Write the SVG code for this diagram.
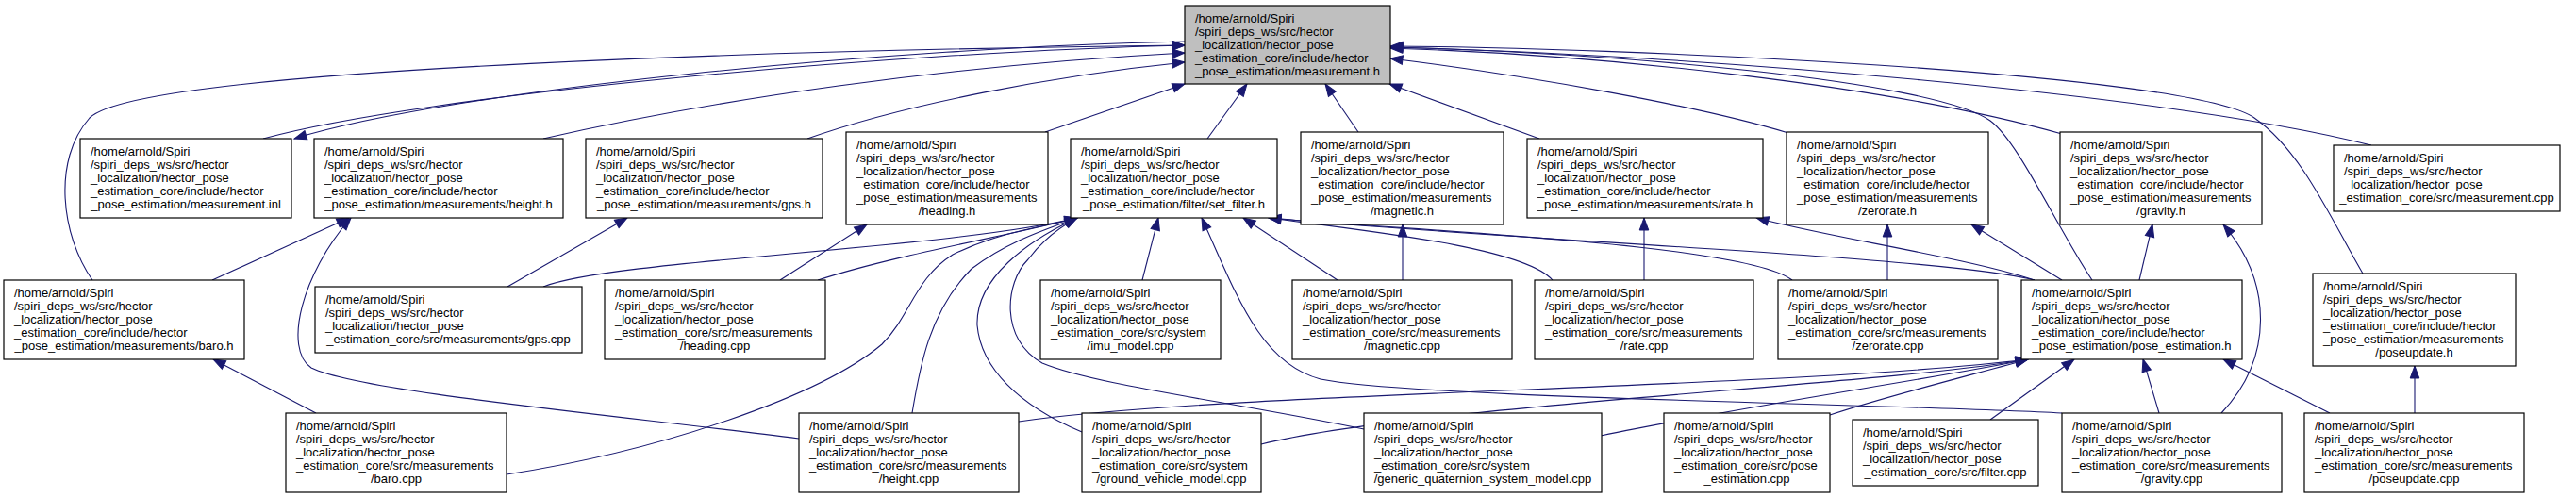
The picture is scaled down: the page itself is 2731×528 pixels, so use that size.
<svg xmlns="http://www.w3.org/2000/svg" width="2731" height="528" viewBox="0 0 2731 528">
<style>
.node rect{fill:#ffffff;stroke:#000000;stroke-width:1.2}
.root rect{fill:#bfbfbf}
text{font-family:"Liberation Sans",Arial,Helvetica,sans-serif;font-size:13px;fill:#000000}
.c{text-anchor:middle}
#edges path{fill:none;stroke:#191970;stroke-width:1.1;marker-end:url(#arr)}
</style>
<defs>
<marker id="arr" markerUnits="userSpaceOnUse" markerWidth="14" markerHeight="11" refX="13" refY="5.5" orient="auto" overflow="visible">
<path d="M0,0.7 L13,5.5 L0,10.3 z" fill="#191970" stroke="#191970" stroke-width="1"/>
</marker>
</defs>
<rect width="2731" height="528" fill="#ffffff"/>
<g id="edges">
<path d="M279,147 C450,100 950,55 1256,48"/>
<path d="M1256,44 C950,50 480,95 312,147"/>
<path d="M98,297 C65,250 55,170 95,125 C150,70 900,52 1256,48"/>
<path d="M576,147 C760,105 1000,70 1256,56"/>
<path d="M856,147 C960,110 1120,80 1256,66"/>
<path d="M1108,140 L1256,89"/>
<path d="M1280,147 L1322,89"/>
<path d="M1440,140 L1405,89"/>
<path d="M1632,147 L1473,89"/>
<path d="M1896,141 C1800,112 1620,80 1474,62"/>
<path d="M2186,142 C2000,90 1700,58 1474,51"/>
<path d="M2514,154 C2300,100 1800,58 1474,50"/>
<path d="M2218,297 C2180,240 2140,150 2110,128 C2050,85 1700,55 1474,50"/>
<path d="M2505,290 C2470,230 2440,160 2390,125 C2320,76 1700,50 1474,49"/>
<path d="M225,297 L370,231"/>
<path d="M847,465 C650,440 380,415 330,390 C300,370 320,290 372,231"/>
<path d="M538,304 L665,231"/>
<path d="M827,297 L919,238"/>
<path d="M576,304 C650,275 1000,265 1142,231"/>
<path d="M867,297 C950,270 1070,250 1142,231"/>
<path d="M537,503 C700,478 870,420 935,365 C965,335 970,295 1010,270 C1060,245 1110,240 1142,231"/>
<path d="M967,438 C975,390 985,330 1030,285 C1070,255 1110,243 1142,231"/>
<path d="M1147,458 C1080,430 1040,390 1036,345 C1034,295 1090,255 1142,231"/>
<path d="M1446,455 C1300,425 1160,408 1105,385 C1060,360 1065,300 1090,275 C1105,255 1125,240 1142,231"/>
<path d="M1211,297 L1228,231"/>
<path d="M2186,438 C2000,428 1500,422 1400,402 C1335,385 1310,310 1274,231"/>
<path d="M1418,297 L1318,231"/>
<path d="M1646,297 C1615,262 1450,245 1345,231"/>
<path d="M1900,297 C1850,258 1500,245 1345,231"/>
<path d="M2157,297 C2060,272 1600,255 1345,231"/>
<path d="M1487,297 L1487,238"/>
<path d="M1743,297 L1743,231"/>
<path d="M2001,297 L2001,238"/>
<path d="M2157,297 C2080,272 1940,252 1862,231"/>
<path d="M2186,297 L2090,238"/>
<path d="M2268,297 L2282,238"/>
<path d="M2355,438 C2410,380 2410,300 2357,238"/>
<path d="M2289,438 L2272,381"/>
<path d="M2470,438 L2357,381"/>
<path d="M2560,438 L2560,388"/>
<path d="M2110,445 L2199,381"/>
<path d="M1940,440 C2000,420 2100,395 2150,381"/>
<path d="M1697,462 C1850,430 2060,400 2150,381"/>
<path d="M1337,471 C1500,430 2000,408 2150,381"/>
<path d="M1080,447 C1300,415 1900,412 2150,381"/>
<path d="M335,438 L226,381"/>
</g>
<g id="n_root" class="node root"><rect x="1256" y="6" width="218" height="83"/>
<text x="1267" y="23.5">/home/arnold/Spiri</text><text x="1267" y="37.5">/spiri_deps_ws/src/hector</text><text x="1267" y="51.5">_localization/hector_pose</text><text x="1267" y="65.5">_estimation_core/include/hector</text><text class="c" x="1365" y="79.5">_pose_estimation/measurement.h</text></g>
<g id="n_measurement_inl" class="node"><rect x="85" y="147" width="224" height="84"/>
<text x="96" y="165">/home/arnold/Spiri</text><text x="96" y="179">/spiri_deps_ws/src/hector</text><text x="96" y="193">_localization/hector_pose</text><text x="96" y="207">_estimation_core/include/hector</text><text class="c" x="197" y="221">_pose_estimation/measurement.inl</text></g>
<g id="n_height_h" class="node"><rect x="333" y="147" width="264" height="84"/>
<text x="344" y="165">/home/arnold/Spiri</text><text x="344" y="179">/spiri_deps_ws/src/hector</text><text x="344" y="193">_localization/hector_pose</text><text x="344" y="207">_estimation_core/include/hector</text><text class="c" x="465" y="221">_pose_estimation/measurements/height.h</text></g>
<g id="n_gps_h" class="node"><rect x="621" y="147" width="251" height="84"/>
<text x="632" y="165">/home/arnold/Spiri</text><text x="632" y="179">/spiri_deps_ws/src/hector</text><text x="632" y="193">_localization/hector_pose</text><text x="632" y="207">_estimation_core/include/hector</text><text class="c" x="746.5" y="221">_pose_estimation/measurements/gps.h</text></g>
<g id="n_heading_h" class="node"><rect x="897" y="140" width="214" height="98"/>
<text x="908" y="158">/home/arnold/Spiri</text><text x="908" y="172">/spiri_deps_ws/src/hector</text><text x="908" y="186">_localization/hector_pose</text><text x="908" y="200">_estimation_core/include/hector</text><text x="908" y="214">_pose_estimation/measurements</text><text class="c" x="1004" y="228">/heading.h</text></g>
<g id="n_set_filter_h" class="node"><rect x="1135" y="147" width="219" height="84"/>
<text x="1146" y="165">/home/arnold/Spiri</text><text x="1146" y="179">/spiri_deps_ws/src/hector</text><text x="1146" y="193">_localization/hector_pose</text><text x="1146" y="207">_estimation_core/include/hector</text><text class="c" x="1244.5" y="221">_pose_estimation/filter/set_filter.h</text></g>
<g id="n_magnetic_h" class="node"><rect x="1379" y="140" width="215" height="98"/>
<text x="1390" y="158">/home/arnold/Spiri</text><text x="1390" y="172">/spiri_deps_ws/src/hector</text><text x="1390" y="186">_localization/hector_pose</text><text x="1390" y="200">_estimation_core/include/hector</text><text x="1390" y="214">_pose_estimation/measurements</text><text class="c" x="1486.5" y="228">/magnetic.h</text></g>
<g id="n_rate_h" class="node"><rect x="1619" y="147" width="250" height="84"/>
<text x="1630" y="165">/home/arnold/Spiri</text><text x="1630" y="179">/spiri_deps_ws/src/hector</text><text x="1630" y="193">_localization/hector_pose</text><text x="1630" y="207">_estimation_core/include/hector</text><text class="c" x="1744" y="221">_pose_estimation/measurements/rate.h</text></g>
<g id="n_zerorate_h" class="node"><rect x="1894" y="140" width="214" height="98"/>
<text x="1905" y="158">/home/arnold/Spiri</text><text x="1905" y="172">/spiri_deps_ws/src/hector</text><text x="1905" y="186">_localization/hector_pose</text><text x="1905" y="200">_estimation_core/include/hector</text><text x="1905" y="214">_pose_estimation/measurements</text><text class="c" x="2001" y="228">/zerorate.h</text></g>
<g id="n_gravity_h" class="node"><rect x="2184" y="140" width="214" height="98"/>
<text x="2195" y="158">/home/arnold/Spiri</text><text x="2195" y="172">/spiri_deps_ws/src/hector</text><text x="2195" y="186">_localization/hector_pose</text><text x="2195" y="200">_estimation_core/include/hector</text><text x="2195" y="214">_pose_estimation/measurements</text><text class="c" x="2291" y="228">/gravity.h</text></g>
<g id="n_measurement_cpp" class="node"><rect x="2474" y="154" width="240" height="70"/>
<text x="2485" y="172">/home/arnold/Spiri</text><text x="2485" y="186">/spiri_deps_ws/src/hector</text><text x="2485" y="200">_localization/hector_pose</text><text class="c" x="2594" y="214">_estimation_core/src/measurement.cpp</text></g>
<g id="n_baro_h" class="node"><rect x="4" y="297" width="255" height="84"/>
<text x="15" y="315">/home/arnold/Spiri</text><text x="15" y="329">/spiri_deps_ws/src/hector</text><text x="15" y="343">_localization/hector_pose</text><text x="15" y="357">_estimation_core/include/hector</text><text class="c" x="131.5" y="371">_pose_estimation/measurements/baro.h</text></g>
<g id="n_gps_cpp" class="node"><rect x="334" y="304" width="283" height="70"/>
<text x="345" y="322">/home/arnold/Spiri</text><text x="345" y="336">/spiri_deps_ws/src/hector</text><text x="345" y="350">_localization/hector_pose</text><text class="c" x="475.5" y="364">_estimation_core/src/measurements/gps.cpp</text></g>
<g id="n_heading_cpp" class="node"><rect x="641" y="297" width="234" height="84"/>
<text x="652" y="315">/home/arnold/Spiri</text><text x="652" y="329">/spiri_deps_ws/src/hector</text><text x="652" y="343">_localization/hector_pose</text><text x="652" y="357">_estimation_core/src/measurements</text><text class="c" x="758" y="371">/heading.cpp</text></g>
<g id="n_imu_model_cpp" class="node"><rect x="1103" y="297" width="191" height="84"/>
<text x="1114" y="315">/home/arnold/Spiri</text><text x="1114" y="329">/spiri_deps_ws/src/hector</text><text x="1114" y="343">_localization/hector_pose</text><text x="1114" y="357">_estimation_core/src/system</text><text class="c" x="1198.5" y="371">/imu_model.cpp</text></g>
<g id="n_magnetic_cpp" class="node"><rect x="1370" y="297" width="233" height="84"/>
<text x="1381" y="315">/home/arnold/Spiri</text><text x="1381" y="329">/spiri_deps_ws/src/hector</text><text x="1381" y="343">_localization/hector_pose</text><text x="1381" y="357">_estimation_core/src/measurements</text><text class="c" x="1486.5" y="371">/magnetic.cpp</text></g>
<g id="n_rate_cpp" class="node"><rect x="1627" y="297" width="232" height="84"/>
<text x="1638" y="315">/home/arnold/Spiri</text><text x="1638" y="329">/spiri_deps_ws/src/hector</text><text x="1638" y="343">_localization/hector_pose</text><text x="1638" y="357">_estimation_core/src/measurements</text><text class="c" x="1743" y="371">/rate.cpp</text></g>
<g id="n_zerorate_cpp" class="node"><rect x="1885" y="297" width="233" height="84"/>
<text x="1896" y="315">/home/arnold/Spiri</text><text x="1896" y="329">/spiri_deps_ws/src/hector</text><text x="1896" y="343">_localization/hector_pose</text><text x="1896" y="357">_estimation_core/src/measurements</text><text class="c" x="2001.5" y="371">/zerorate.cpp</text></g>
<g id="n_pose_estimation_h" class="node"><rect x="2143" y="297" width="234" height="84"/>
<text x="2154" y="315">/home/arnold/Spiri</text><text x="2154" y="329">/spiri_deps_ws/src/hector</text><text x="2154" y="343">_localization/hector_pose</text><text x="2154" y="357">_estimation_core/include/hector</text><text class="c" x="2260" y="371">_pose_estimation/pose_estimation.h</text></g>
<g id="n_poseupdate_h" class="node"><rect x="2452" y="290" width="215" height="98"/>
<text x="2463" y="308">/home/arnold/Spiri</text><text x="2463" y="322">/spiri_deps_ws/src/hector</text><text x="2463" y="336">_localization/hector_pose</text><text x="2463" y="350">_estimation_core/include/hector</text><text x="2463" y="364">_pose_estimation/measurements</text><text class="c" x="2559.5" y="378">/poseupdate.h</text></g>
<g id="n_baro_cpp" class="node"><rect x="303" y="438" width="234" height="84"/>
<text x="314" y="456">/home/arnold/Spiri</text><text x="314" y="470">/spiri_deps_ws/src/hector</text><text x="314" y="484">_localization/hector_pose</text><text x="314" y="498">_estimation_core/src/measurements</text><text class="c" x="420" y="512">/baro.cpp</text></g>
<g id="n_height_cpp" class="node"><rect x="847" y="438" width="233" height="84"/>
<text x="858" y="456">/home/arnold/Spiri</text><text x="858" y="470">/spiri_deps_ws/src/hector</text><text x="858" y="484">_localization/hector_pose</text><text x="858" y="498">_estimation_core/src/measurements</text><text class="c" x="963.5" y="512">/height.cpp</text></g>
<g id="n_ground_vehicle_model_cpp" class="node"><rect x="1147" y="438" width="190" height="84"/>
<text x="1158" y="456">/home/arnold/Spiri</text><text x="1158" y="470">/spiri_deps_ws/src/hector</text><text x="1158" y="484">_localization/hector_pose</text><text x="1158" y="498">_estimation_core/src/system</text><text class="c" x="1242" y="512">/ground_vehicle_model.cpp</text></g>
<g id="n_generic_quaternion_system_model_cpp" class="node"><rect x="1446" y="438" width="252" height="84"/>
<text x="1457" y="456">/home/arnold/Spiri</text><text x="1457" y="470">/spiri_deps_ws/src/hector</text><text x="1457" y="484">_localization/hector_pose</text><text x="1457" y="498">_estimation_core/src/system</text><text class="c" x="1572" y="512">/generic_quaternion_system_model.cpp</text></g>
<g id="n_pose_estimation_cpp" class="node"><rect x="1764" y="438" width="176" height="84"/>
<text x="1775" y="456">/home/arnold/Spiri</text><text x="1775" y="470">/spiri_deps_ws/src/hector</text><text x="1775" y="484">_localization/hector_pose</text><text x="1775" y="498">_estimation_core/src/pose</text><text class="c" x="1852" y="512">_estimation.cpp</text></g>
<g id="n_filter_cpp" class="node"><rect x="1964" y="445" width="197" height="70"/>
<text x="1975" y="463">/home/arnold/Spiri</text><text x="1975" y="477">/spiri_deps_ws/src/hector</text><text x="1975" y="491">_localization/hector_pose</text><text class="c" x="2062.5" y="505">_estimation_core/src/filter.cpp</text></g>
<g id="n_gravity_cpp" class="node"><rect x="2186" y="438" width="233" height="84"/>
<text x="2197" y="456">/home/arnold/Spiri</text><text x="2197" y="470">/spiri_deps_ws/src/hector</text><text x="2197" y="484">_localization/hector_pose</text><text x="2197" y="498">_estimation_core/src/measurements</text><text class="c" x="2302.5" y="512">/gravity.cpp</text></g>
<g id="n_poseupdate_cpp" class="node"><rect x="2443" y="438" width="233" height="84"/>
<text x="2454" y="456">/home/arnold/Spiri</text><text x="2454" y="470">/spiri_deps_ws/src/hector</text><text x="2454" y="484">_localization/hector_pose</text><text x="2454" y="498">_estimation_core/src/measurements</text><text class="c" x="2559.5" y="512">/poseupdate.cpp</text></g>
</svg>
